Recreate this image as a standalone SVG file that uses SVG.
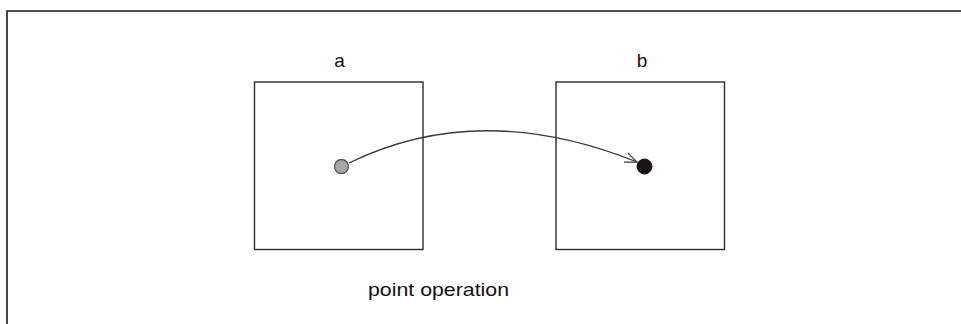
<svg xmlns="http://www.w3.org/2000/svg" width="961" height="324" viewBox="0 0 961 324">
  <style>
    .frame { fill: none; stroke: #1a1a1a; stroke-width: 1.6; }
    .box { fill: #ffffff; stroke: #2b2b2b; stroke-width: 1.4; }
    .label { font-family: "Liberation Sans", Arial, sans-serif; font-size: 19px; fill: #111111; }
    .edge { fill: none; stroke: #3a3a3a; stroke-width: 1.3; }
  </style>
  <defs>
    <marker id="openArrow" viewBox="0 0 14 12" refX="13" refY="6" markerWidth="14" markerHeight="12" markerUnits="userSpaceOnUse" orient="auto">
      <path d="M1,1 L13,6 L1,11" fill="none" stroke="#3a3a3a" stroke-width="1.3"/>
    </marker>
  </defs>
  <rect width="961" height="324" fill="#ffffff"/>

  <!-- outer frame, open on the right and bottom -->
  <path class="frame" d="M7,324 L7,11 L961,11"/>

  <g id="node-a">
    <rect class="box" x="254.5" y="82" width="168.5" height="167.5"/>
    <text class="label" x="339.5" y="66.5" text-anchor="middle">a</text>
    <circle cx="341.5" cy="166.5" r="7" fill="#a6a6a6" stroke="#555555" stroke-width="1.3"/>
  </g>

  <g id="node-b">
    <rect class="box" x="556" y="82" width="168.5" height="167.5"/>
    <text class="label" x="642" y="66.5" text-anchor="middle">b</text>
    <circle cx="644.5" cy="166.5" r="7.5" fill="#1a1412" stroke="#1a1412" stroke-width="1"/>
  </g>

  <g id="connectors">
    <path class="edge" d="M349,163 Q480,99 637,162" marker-end="url(#openArrow)"/>
  </g>

  <text class="label" x="368" y="295.5" textLength="141" lengthAdjust="spacingAndGlyphs">point operation</text>
</svg>
